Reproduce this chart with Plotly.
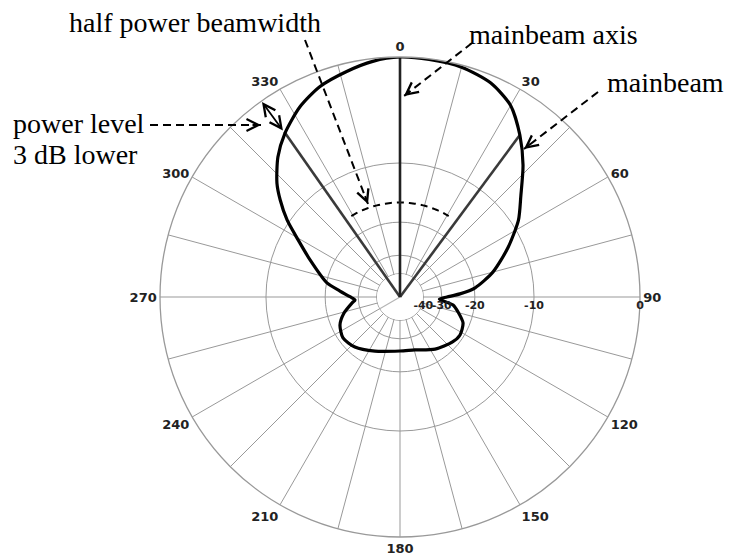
import numpy as np
import plotly.graph_objects as go

# ---------------- data (compass degrees, relative power in dB) ----------------
pattern_theta = [0, 7, 15, 23, 30, 36.5, 43, 50, 57, 65.5, 75, 83, 87, 90, 93,
                 98.6, 104.5, 112.4, 122.3, 130.9, 146, 164.5, 180, 204.8, 222,
                 234.3, 245, 254, 262.9, 266.3, 270.3, 275.7, 280.9, 292.4, 299.2,
                 304.3, 309, 312.8, 318.9, 325, 332.2, 339.1, 346.7, 353.4, 360]
pattern_db = [0, -0.05, -0.15, -0.55, -1.4, -3.0, -4.9, -7.2, -9.1, -12.1, -15.7,
              -19.8, -23.8, -28.0, -31.0,
              -25.7, -23.8, -21.6, -20.9, -21.4, -23.0, -25.3, -25.6, -23.9, -21.8,
              -21.1, -22.1, -24.3, -27.5, -28.7, -26.9, -23.7, -20.1, -15.5, -12.4,
              -9.66, -7.6, -6.15, -4.4, -3.1, -1.9, -1.1, -0.6, -0.2, 0]

axis_theta = [0]                 # mainbeam axis direction
halfpower_theta = [325, 36.5]    # half power directions
halfpower_db = -3
beamwidth_arc_db = -16
beamwidth_arc_span = (-31, 31)

radial_ticks_db = [-40, -30, -20, -10, 0]
radial_ticks_text = ["-40", "-30", "-20", "-10", "0"]
angular_ticks = list(range(0, 360, 15))
angular_labels = [str(a) if a % 30 == 0 else "" for a in angular_ticks]


# ARRL log-periodic radial scale (each 2 dB -> factor 0.89)
def arrl(db):
    return 0.89 ** (-np.asarray(db, dtype=float) / 2.0)


W, H = 729, 559
GRID = "#999999"

fig = go.Figure()

# blank centre (inside the -40 dB ring)
circ = np.linspace(0, 360, 181)
fig.add_trace(go.Scatterpolar(r=np.full_like(circ, arrl(-40) * 0.985), theta=circ,
                              mode="lines", fill="toself", fillcolor="white",
                              line=dict(width=0, color="white"), hoverinfo="skip"))
# 240 deg spoke reaching the centre
fig.add_trace(go.Scatterpolar(r=[0, arrl(-40)], theta=[240, 240], mode="lines",
                              line=dict(color="#b5b5b5", width=1.2), hoverinfo="skip"))

# beamwidth dashed arc
arc_t = np.linspace(beamwidth_arc_span[0], beamwidth_arc_span[1], 60)
fig.add_trace(go.Scatterpolar(r=np.full_like(arc_t, arrl(beamwidth_arc_db)), theta=arc_t,
                              mode="lines", line=dict(color="black", width=2, dash="7px,5px"),
                              hoverinfo="skip"))

# half power lines
for t in halfpower_theta:
    fig.add_trace(go.Scatterpolar(r=[0, arrl(halfpower_db)], theta=[t, t], mode="lines",
                                  line=dict(color="#3a3a3a", width=2.6), hoverinfo="skip"))
# mainbeam axis
for t in axis_theta:
    fig.add_trace(go.Scatterpolar(r=[0, arrl(0)], theta=[t, t], mode="lines",
                                  line=dict(color="#222222", width=2.6), hoverinfo="skip"))

# radiation pattern
fig.add_trace(go.Scatterpolar(r=arrl(pattern_db), theta=pattern_theta, mode="lines",
                              line=dict(color="black", width=3.2, shape="spline", smoothing=0.7),
                              hoverinfo="skip"))

# polar domain: centre (400, 297) px, radius 240 px
cx, cy, R = 400, 297, 240
fig.update_layout(
    width=W, height=H, margin=dict(l=0, r=0, t=0, b=0),
    paper_bgcolor="white", showlegend=False,
    polar=dict(
        domain=dict(x=[(cx - R) / W, (cx + R) / W], y=[1 - (cy + R) / H, 1 - (cy - R) / H]),
        bgcolor="white",
        radialaxis=dict(range=[0, 1], tickvals=list(arrl(radial_ticks_db)),
                        ticktext=radial_ticks_text, showline=False, ticks="",
                        angle=0, tickangle=0, side="clockwise", gridcolor=GRID, gridwidth=1.2,
                        tickfont=dict(family="DejaVu Sans", size=11, color="#222", weight="bold")),
        angularaxis=dict(rotation=90, direction="clockwise", tickmode="array",
                         tickvals=angular_ticks, ticktext=angular_labels, ticks="",
                         showline=True, linecolor=GRID, linewidth=1.3,
                         gridcolor=GRID, gridwidth=1.2,
                         tickfont=dict(family="DejaVu Sans", size=13, color="#222", weight="bold")),
    ),
)


def P(x, y):
    return x / W, 1 - y / H


SERIF = dict(family="Liberation Serif, Times New Roman, serif", size=28, color="black")
texts = [
    ("half power beamwidth", 195, 22, "center"),
    ("mainbeam axis", 467, 35, "left"),
    ("mainbeam", 605, 83, "left"),
    ("power level", 11, 123, "left"),
    ("3 dB lower", 11, 155, "left"),
]
for t, x, y, xa in texts:
    px, py = P(x, y)
    fig.add_annotation(x=px, y=py, xref="paper", yref="paper", text=t, showarrow=False,
                       xanchor=xa, yanchor="middle", font=SERIF)

# dashed leader lines with open arrow heads
leaders = [((305, 40), (368, 204)), ((472, 43), (404, 96)), ((598, 92), (524, 149)),
           ((150, 125), (261, 125))]
for (x0, y0), (x1, y1) in leaders:
    a0, b0 = P(x0, y0)
    a1, b1 = P(x1, y1)
    fig.add_shape(type="line", xref="paper", yref="paper", x0=a0, y0=b0, x1=a1, y1=b1,
                  line=dict(color="black", width=2, dash="8px,5px"))
    L = ((x1 - x0) ** 2 + (y1 - y0) ** 2) ** 0.5
    ux, uy = (x1 - x0) / L, (y1 - y0) / L
    fig.add_annotation(x=a1, y=b1, xref="paper", yref="paper", text="", showarrow=True,
                       ax=-ux * 10, ay=-uy * 10, arrowhead=5, arrowsize=1.3, arrowwidth=1.8,
                       arrowcolor="black", standoff=0)

# double-headed arrow between 0 dB circle and -3 dB point
h0 = P(262, 102)
fig.add_annotation(x=h0[0], y=h0[1], xref="paper", yref="paper", text="", showarrow=True,
                   ax=22, ay=30, arrowhead=5, startarrowhead=5, arrowside="end+start",
                   arrowsize=1.3, arrowwidth=1.8, arrowcolor="black", standoff=0, startstandoff=0)

fig.write_html("out.html", config={"displayModeBar": False},
               post_script="document.body.style.margin='0px';")
